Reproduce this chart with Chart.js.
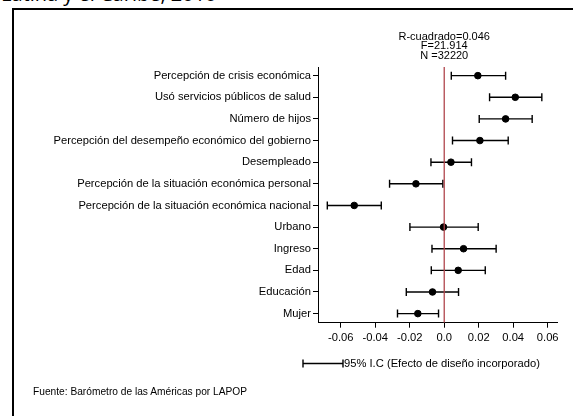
<!DOCTYPE html>
<html>
<head>
<meta charset="utf-8">
<script src="https://cdn.jsdelivr.net/npm/chart.js@4.4.1/dist/chart.umd.min.js"></script>
<style>
  html, body { margin: 0; padding: 0; background: #fff; }
  #wrap { position: relative; width: 573px; height: 416px; overflow: hidden; }
  #title { position: absolute; left: 1px; top: -20px; font: 20px "Open Sans", sans-serif; color: #000; white-space: nowrap; }
  #box { position: absolute; left: 12px; top: 8px; width: 600px; height: 500px; border: 2px solid #000; box-sizing: border-box; }
  #chart { position: absolute; left: 0; top: 0; }
  .txt { position: absolute; font: 10.2px "Liberation Sans", Arial, sans-serif; color: #000; white-space: nowrap; }
</style>
</head>
<body>
<div id="wrap">
  <div id="title">Latina y el Caribe, 2010</div>
  <div id="box"></div>
  <canvas id="chart" width="573" height="416"></canvas>
  <div class="txt" id="src" style="left:33px; top:386px;">Fuente: Barómetro de las Américas por LAPOP</div>
</div>
<script>
// categorías (de arriba hacia abajo)
const categories = [
    'Percepción de crisis económica',
    'Usó servicios públicos de salud',
    'Número de hijos',
    'Percepción del desempeño económico del gobierno',
    'Desempleado',
    'Percepción de la situación económica personal',
    'Percepción de la situación económica nacional',
    'Urbano',
    'Ingreso',
    'Edad',
    'Educación',
    'Mujer'
];
const coef  = [0.0195, 0.0412, 0.0356, 0.0207, 0.0039, -0.0164, -0.0522, -0.0004, 0.0112, 0.0081, -0.0068, -0.0153];
const lower = [0.0041, 0.0263, 0.0203, 0.0048, -0.0077, -0.0317, -0.0678, -0.0199, -0.0071, -0.0075, -0.0220, -0.0271];
const upper = [0.0356, 0.0566, 0.0510, 0.0371, 0.0158, -0.0008, -0.0365, 0.0197, 0.0301, 0.0238, 0.0083, -0.0033];
const xTicks = [-0.06, -0.04, -0.02, 0, 0.02, 0.04, 0.06];
const stats = ['R-cuadrado=0.046', 'F=21.914', 'N =32220'];
const legendText = '95% I.C (Efecto de diseño incorporado)';

const FONT = { family: '"Liberation Sans", Arial, sans-serif', size: 11.2 };

const datasets = [];
// línea de referencia en 0
datasets.push({
    type: 'line',
    data: [{ x: 0, y: -0.4 }, { x: 0, y: 11.42 }],
    borderColor: '#b0454c',
    borderWidth: 1.3,
    pointRadius: 0
});
// intervalos de confianza
categories.forEach((c, i) => {
    datasets.push({
        type: 'line',
        data: [{ x: lower[i], y: i }, { x: upper[i], y: i }],
        borderColor: '#000',
        borderWidth: 1.4,
        pointStyle: 'line',
        rotation: 90,
        pointRadius: 4,
        pointBorderWidth: 1.4,
        pointBorderColor: '#000'
    });
});
// coeficientes
datasets.push({
    type: 'scatter',
    data: coef.map((v, i) => ({ x: v, y: i })),
    backgroundColor: '#000',
    borderColor: '#000',
    pointRadius: 3.3,
    pointHoverRadius: 3.3
});

// textos y leyenda dibujados en el canvas
const extras = {
    id: 'extras',
    afterDraw(chart) {
        const ctx = chart.ctx;
        const xs = chart.scales.x;
        const cx = xs.getPixelForValue(0);
        ctx.save();
        ctx.fillStyle = '#000';
        ctx.font = '11px "Liberation Sans", Arial, sans-serif';
        ctx.textAlign = 'center';
        ctx.textBaseline = 'middle';
        stats.forEach((s, i) => ctx.fillText(s, cx, 37 + i * 9.3));

        // leyenda
        const y = 363.5, x0 = 303, x1 = 343;
        ctx.strokeStyle = '#000';
        ctx.lineWidth = 1.4;
        ctx.beginPath();
        ctx.moveTo(x0, y); ctx.lineTo(x1, y);
        ctx.moveTo(x0, y - 4); ctx.lineTo(x0, y + 4);
        ctx.moveTo(x1, y - 4); ctx.lineTo(x1, y + 4);
        ctx.stroke();
        ctx.textAlign = 'left';
        ctx.font = '11.2px "Liberation Sans", Arial, sans-serif';
        ctx.fillText(legendText, x1 + 1, y);
        ctx.restore();
    }
};

new Chart(document.getElementById('chart'), {
    data: { datasets },
    options: {
        responsive: false,
        animation: false,
        events: [],
        layout: { padding: { top: 67, right: 16, left: 0, bottom: 0 } },
        plugins: { legend: { display: false }, tooltip: { enabled: false } },
        scales: {
            x: {
                type: 'linear',
                min: -0.0732,
                max: 0.0654,
                afterBuildTicks: s => { s.ticks = xTicks.map(v => ({ value: v })); },
                afterFit: s => { s.height = 93.3; },
                ticks: {
                    color: '#000',
                    font: FONT,
                    padding: 3,
                    maxRotation: 0,
                    callback: v => (Math.abs(v) < 1e-9 ? '0.0' : v.toFixed(2))
                },
                grid: { drawOnChartArea: false, color: '#000', tickLength: 5, tickWidth: 1 },
                border: { color: '#000', width: 1 }
            },
            y: {
                type: 'linear',
                reverse: true,
                min: -0.4,
                max: 11.42,
                afterBuildTicks: s => { s.ticks = categories.map((c, i) => ({ value: i })); },
                afterFit: s => { s.width = 318; },
                ticks: {
                    color: '#000',
                    font: FONT,
                    padding: 2,
                    autoSkip: false,
                    callback: v => categories[v]
                },
                grid: { drawOnChartArea: false, color: '#000', tickLength: 5, tickWidth: 1 },
                border: { color: '#000', width: 1 }
            }
        }
    },
    plugins: [extras]
});
</script>
</body>
</html>
